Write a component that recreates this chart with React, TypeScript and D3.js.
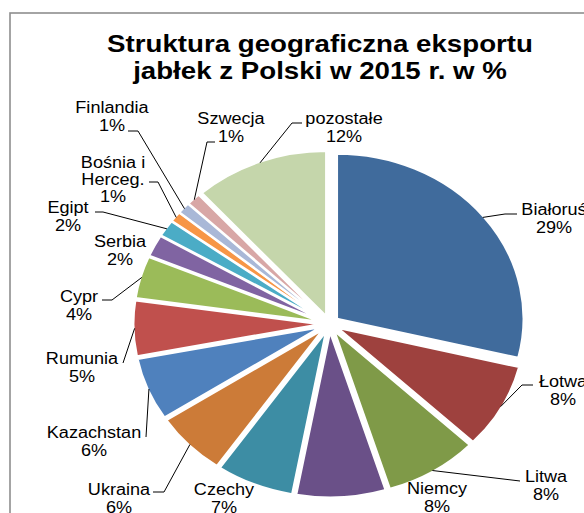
import React from 'react';
import * as d3 from 'd3';

const countries = ['Białoruś', 'Łotwa', 'Litwa', 'Niemcy', 'Czechy', 'Ukraina', 'Kazachstan', 'Rumunia',
    'Cypr', 'Serbia', 'Egipt', 'Bośnia i\nHerceg.', 'Finlandia', 'Szwecja', 'pozostałe'];
const shares = [28.8, 8.3, 8.1, 7.7, 6.7, 6.2, 6.1, 5.4, 4.1, 2.1, 1.6, 1.0, 1.1, 1.2, 11.6];
const colors = ['#406b9c', '#9e413e', '#7f9a48', '#6a5088', '#3d8da4', '#cc7b38', '#4f81bd', '#c0504d',
    '#9bbb59', '#8064a2', '#4bacc6', '#f79646', '#a9b8d7', '#d8a7a6', '#c5d6ab'];
const titleLines = ['Struktura geograficzna eksportu', 'jabłek z Polski w 2015 r. w %'];

// where Excel put each label: centre x, first baseline, leader points on the label side
const labelPlaces: [number, number, [number, number][]][] = [
    [554, 215, [[517, 214], [505, 214]]],
    [563, 387, [[533, 385], [522, 385]]],
    [546, 482, [[520, 481]]],
    [437, 494, []],
    [224, 495, []],
    [119, 495, [[153, 492], [164, 492]]],
    [94, 438, [[146, 437]]],
    [82, 364, [[123, 363]]],
    [79, 302, [[102, 300], [112, 300]]],
    [120, 247, []],
    [68, 213, [[95, 212], [103, 212]]],
    [113, 168, [[149, 182], [158, 182]]],
    [112, 113, [[128, 131], [138, 131]]],
    [231, 124, [[215, 142], [207, 142]]],
    [344, 124, [[302, 123], [292, 123]]],
];

const cx = 329.5, cy = 324, radius = 165, stretch = 1.13, explode = 8.5;
const font = 'Liberation Sans, Arial, sans-serif';

const App = () => {
    const rows = countries.map((name, i) => ({ name, value: shares[i], color: colors[i] }));
    const pie = d3.pie<any>().sort(null).value(d => d.value);
    const arcs = pie(rows);
    const arc = d3.arc<any>().innerRadius(0).outerRadius(radius);

    const mid = (d: any) => (d.startAngle + d.endAngle) / 2;
    const edgePoint = (a: number): [number, number] => {
        const r = radius + explode - 1;
        return [cx + stretch * r * Math.sin(a), cy - r * Math.cos(a)];
    };
    const line = d3.line();

    return (
        <svg width={584} height={513} style={{ position: 'absolute', left: 0, top: 0, background: '#fff' }}>
            <rect x={10} y={13} width={700} height={700} fill="none" stroke="#8e8e8e" strokeWidth={1.6} />
            {titleLines.map((t, i) => (
                <text key={t} transform={`translate(320,${52 + i * 27}) scale(${stretch},1)`} textAnchor="middle"
                    fontFamily={font} fontWeight="bold" fontSize={24.5} fill="#000">{t}</text>
            ))}
            <g transform={`translate(${cx},${cy}) scale(${stretch},1)`}>
                {arcs.map((d, i) => {
                    const a = mid(d);
                    return <path key={i} d={arc(d) as string}
                        transform={`translate(${explode * Math.sin(a)},${-explode * Math.cos(a)})`}
                        fill={d.data.color} stroke="#fff" strokeWidth={2} vectorEffect="non-scaling-stroke" />;
                })}
            </g>
            <g fill="none" stroke="#000" strokeWidth={1}>
                {arcs.map((d, i) => {
                    const pts = labelPlaces[i][2];
                    if (!pts.length) return null;
                    return <path key={i} d={line([...pts, edgePoint(mid(d))]) as string} />;
                })}
            </g>
            <g fontFamily={font} fontSize={16} fill="#000" textAnchor="middle">
                {arcs.map((d, i) => {
                    const [x, y] = labelPlaces[i];
                    const lines = [...d.data.name.split('\n'), `${Math.round(d.data.value)}%`];
                    const step = lines.length > 2 ? 17 : 18;
                    return lines.map((t, j) => (
                        <text key={`${i}-${j}`} transform={`translate(${x},${y + j * step}) scale(${stretch},1)`}>{t}</text>
                    ));
                })}
            </g>
        </svg>
    );
};

export default App;
